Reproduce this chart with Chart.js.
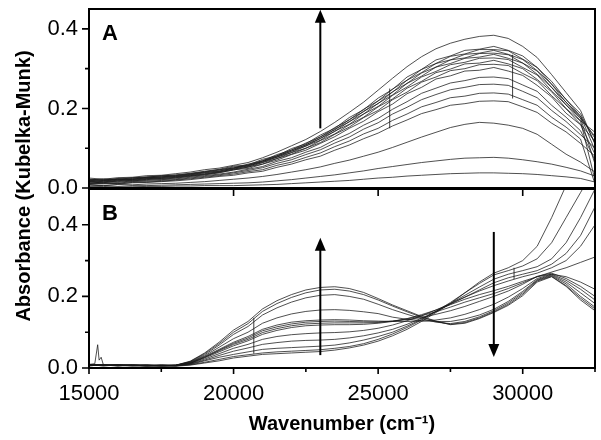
<!DOCTYPE html>
<html>
<head>
<meta charset="utf-8">
<script src="https://cdn.jsdelivr.net/npm/chart.js@4.4.0/dist/chart.umd.min.js"></script>
<style>
html, body { margin: 0; padding: 0; background: #fff; }
#wrap { position: relative; width: 601px; height: 440px; }
#wrap canvas { position: absolute; left: 0; top: 0; }
</style>
</head>
<body>
<div id="wrap">
  <canvas id="plotA" width="601" height="440"></canvas>
  <canvas id="plotB" width="601" height="440"></canvas>
</div>
<script>
// wavenumber grid (cm-1), shared by all spectra
var wavenumbers = [15000,15500,16000,16500,17000,17500,18000,18500,19000,19500,20000,20500,21000,21500,22000,22500,23000,23500,24000,24500,25000,25500,26000,26500,27000,27500,28000,28500,29000,29500,30000,30500,31000,31500,32000,32500];

// panel A spectra
var specA01 = [.025,.022,.026,.027,.031,.032,.036,.040,.046,.050,.057,.064,.076,.090,.106,.122,.142,.165,.190,.216,.246,.276,.305,.330,.350,.364,.374,.381,.384,.376,.356,.328,.285,.240,.195,.110];
var specA02 = [.022,.020,.024,.025,.028,.030,.033,.037,.042,.047,.055,.058,.072,.081,.099,.111,.133,.150,.177,.197,.226,.248,.279,.298,.322,.332,.346,.349,.356,.346,.332,.303,.268,.222,.187,.112];
var specA03 = [.020,.023,.021,.026,.027,.031,.032,.036,.041,.046,.050,.060,.068,.084,.095,.113,.128,.152,.171,.198,.219,.249,.271,.298,.313,.331,.337,.348,.348,.345,.324,.303,.261,.223,.180,.125];
var specA04 = [.021,.019,.023,.022,.027,.028,.031,.035,.040,.045,.053,.056,.069,.079,.096,.108,.129,.146,.172,.192,.219,.241,.271,.290,.313,.322,.336,.339,.346,.336,.323,.295,.261,.215,.181,.095];
var specA05 = [.018,.021,.020,.024,.025,.028,.030,.034,.039,.043,.049,.058,.066,.081,.092,.109,.124,.148,.166,.193,.212,.242,.263,.289,.304,.322,.327,.338,.339,.335,.314,.294,.253,.216,.175,.130];
var specA06 = [.019,.017,.022,.021,.026,.027,.029,.033,.038,.042,.051,.054,.067,.077,.093,.105,.125,.142,.167,.186,.213,.234,.263,.281,.304,.313,.326,.329,.336,.326,.314,.286,.253,.209,.176,.060];
var specA07 = [.016,.019,.018,.022,.023,.026,.028,.032,.036,.041,.047,.056,.064,.078,.089,.106,.120,.143,.160,.186,.205,.233,.254,.279,.293,.310,.316,.326,.327,.323,.303,.284,.244,.209,.169,.140];
var specA08 = [.017,.015,.020,.019,.024,.024,.027,.031,.035,.040,.048,.052,.064,.074,.089,.100,.119,.136,.159,.178,.204,.224,.251,.268,.290,.299,.312,.314,.321,.312,.300,.273,.242,.200,.168,.020];
var specA09 = [.014,.017,.016,.020,.021,.024,.026,.030,.034,.039,.045,.053,.060,.074,.085,.100,.114,.135,.153,.177,.195,.222,.241,.266,.279,.295,.300,.310,.311,.308,.288,.270,.232,.199,.160,.118];
var specA10 = [.015,.013,.018,.017,.022,.022,.025,.029,.033,.038,.046,.049,.060,.070,.084,.095,.112,.129,.150,.168,.192,.211,.237,.253,.274,.282,.294,.296,.303,.294,.283,.258,.229,.188,.159,.085];
var specA11 = [.012,.015,.014,.018,.019,.021,.023,.027,.031,.035,.040,.047,.054,.067,.076,.090,.102,.121,.137,.158,.175,.198,.217,.238,.251,.264,.270,.278,.279,.275,.259,.243,.208,.178,.144,.070];
var specA12 = [.011,.013,.012,.016,.017,.019,.021,.025,.029,.033,.038,.044,.051,.062,.071,.084,.096,.113,.128,.148,.164,.186,.203,.222,.235,.247,.253,.260,.261,.258,.243,.227,.195,.167,.134,.100];
var specA13 = [.010,.012,.011,.014,.015,.017,.020,.023,.027,.031,.035,.041,.046,.057,.065,.077,.088,.104,.118,.136,.150,.170,.186,.204,.215,.227,.231,.238,.239,.236,.222,.208,.178,.153,.123,.010];
var specA14 = [.009,.011,.010,.013,.014,.016,.018,.021,.025,.029,.032,.038,.042,.052,.060,.071,.080,.095,.108,.124,.138,.156,.171,.187,.197,.208,.212,.218,.219,.217,.204,.190,.163,.141,.112,.080];
var specA15 = [.008,.006,.009,.008,.010,.011,.012,.014,.016,.019,.022,.025,.029,.034,.040,.046,.053,.062,.070,.080,.090,.102,.115,.128,.140,.152,.160,.165,.163,.158,.150,.135,.110,.085,.065,.040];
var specA16 = [.005,.007,.004,.006,.006,.007,.008,.009,.010,.011,.012,.013,.015,.018,.021,.025,.029,.033,.038,.043,.049,.054,.059,.064,.068,.072,.075,.076,.077,.075,.071,.066,.060,.052,.043,.030];
var specA17 = [.003,.004,.002,.003,.004,.004,.005,.005,.006,.006,.006,.007,.008,.009,.011,.013,.015,.017,.019,.022,.025,.027,.030,.032,.034,.036,.037,.038,.038,.037,.036,.034,.031,.028,.024,.015];

// panel B spectra
var specB01 = [.008,.010,.006,.007,.005,.006,.005,.008,.014,.020,.028,.033,.038,.040,.042,.044,.046,.050,.056,.064,.075,.090,.108,.130,.155,.180,.210,.240,.265,.280,.300,.340,.420,.510,.590,.650];
var specB02 = [.010,.007,.008,.006,.007,.005,.006,.009,.016,.024,.032,.037,.042,.045,.047,.049,.051,.055,.060,.068,.080,.095,.113,.134,.158,.183,.210,.236,.260,.272,.285,.305,.350,.420,.490,.560];
var specB03 = [.006,.009,.007,.008,.006,.007,.006,.010,.020,.030,.038,.045,.052,.055,.057,.059,.061,.064,.070,.078,.088,.100,.117,.136,.158,.180,.203,.226,.248,.262,.272,.283,.305,.350,.420,.500];
var specB04 = [.009,.006,.009,.007,.008,.006,.007,.011,.022,.035,.047,.056,.066,.071,.075,.077,.078,.080,.084,.090,.098,.108,.122,.139,.158,.178,.198,.218,.238,.252,.262,.272,.290,.320,.370,.450];
var specB05 = [.007,.008,.006,.009,.007,.008,.007,.012,.025,.040,.055,.066,.080,.088,.093,.096,.098,.099,.101,.105,.111,.120,.132,.146,.162,.180,.198,.215,.230,.243,.255,.265,.280,.300,.340,.400];
var specB06 = [.008,.007,.009,.006,.008,.007,.008,.013,.028,.045,.062,.076,.094,.105,.113,.118,.120,.121,.121,.122,.125,.130,.138,.149,.162,.177,.192,.205,.216,.228,.242,.255,.268,.280,.295,.310];
var specB07 = [.006,.009,.007,.008,.009,.006,.007,.014,.030,.048,.066,.080,.099,.110,.118,.123,.125,.126,.126,.126,.127,.131,.137,.146,.157,.170,.184,.196,.208,.222,.238,.255,.262,.255,.240,.220];
var specB08 = [.009,.006,.008,.007,.006,.009,.006,.013,.030,.050,.069,.084,.104,.115,.123,.128,.130,.131,.130,.129,.129,.131,.135,.141,.150,.160,.172,.186,.200,.215,.234,.256,.265,.250,.228,.200];
var specB09 = [.007,.008,.006,.009,.007,.006,.008,.015,.032,.052,.072,.088,.108,.120,.128,.132,.134,.135,.134,.132,.131,.130,.130,.131,.134,.140,.150,.163,.178,.198,.222,.250,.262,.245,.220,.190];
var specB10 = [.008,.007,.009,.008,.006,.007,.007,.016,.034,.058,.082,.100,.125,.140,.151,.158,.162,.163,.161,.157,.152,.142,.136,.132,.130,.130,.137,.148,.164,.186,.214,.247,.260,.240,.210,.180];
var specB11 = [.009,.008,.007,.006,.008,.007,.008,.017,.037,.064,.094,.116,.148,.168,.184,.196,.203,.205,.200,.192,.178,.163,.150,.138,.128,.124,.130,.143,.160,.182,.210,.245,.258,.235,.200,.170];
var specB12 = [.008,.009,.008,.007,.006,.008,.007,.018,.040,.068,.100,.124,.158,.180,.197,.210,.218,.220,.215,.205,.190,.173,.157,.142,.130,.122,.127,.140,.157,.178,.206,.243,.256,.230,.195,.165];
var specB13 = [.010,.008,.009,.008,.007,.006,.008,.019,.042,.072,.106,.130,.165,.188,.205,.218,.225,.227,.222,.211,.194,.176,.160,.144,.131,.121,.125,.138,.155,.175,.202,.240,.255,.228,.190,.160];

// narrow spike near 15300 cm-1 in panel B
var spikeX = [15000,15200,15300,15350,15420,15500];
var spikeY = [.010,.012,.065,.022,.030,.008];

// instrument glitches: wavenumber, low and high absorbance of the vertical streak
var glitchA = [[25400, 0.150, 0.250], [29650, 0.225, 0.335]];
var glitchB = [[20700, 0.040, 0.140], [29700, 0.248, 0.280]];

// ticks
var xMajor = [15000, 20000, 25000, 30000];
var xMinor = [17500, 22500, 27500, 32500];
var yMajor = [0, 0.2, 0.4];
var yMinor = [0.1, 0.3];

// arrows: wavenumber, start and end absorbance
var arrowsA = [[23000, 0.150, 0.448]];
var arrowsB = [[23000, 0.036, 0.364], [29000, 0.380, 0.031]];

var specsA = [specA01,specA02,specA03,specA04,specA05,specA06,specA07,specA08,specA09,specA10,specA11,specA12,specA13,specA14,specA15,specA16,specA17];
var specsB = [specB01,specB02,specB03,specB04,specB05,specB06,specB07,specB08,specB09,specB10,specB11,specB12,specB13];

var FONT = '"Liberation Sans", Arial, sans-serif';
var lineColor = 'rgba(25,25,25,0.85)';

function toPoints(xs, ys) {
	return xs.map(function (x, i) { return {x: x, y: ys[i]}; });
}

function lineSet(points, width) {
	return {data: points, borderColor: lineColor, borderWidth: width, pointRadius: 0, tension: 0, fill: false};
}

function makeSets(list, glitches) {
	var sets = list.map(function (ys) { return lineSet(toPoints(wavenumbers, ys), 0.9); });
	glitches.forEach(function (g) {
		sets.push(lineSet([{x: g[0], y: g[1]}, {x: g[0], y: g[2]}], 1));
	});
	return sets;
}

function drawArrow(ctx, x, y0, y1) {
	var dir = y1 < y0 ? 1 : -1;
	ctx.beginPath();
	ctx.moveTo(x, y0);
	ctx.lineTo(x, y1 + dir * 10);
	ctx.stroke();
	ctx.beginPath();
	ctx.moveTo(x, y1);
	ctx.lineTo(x - 5.5, y1 + dir * 13);
	ctx.lineTo(x + 5.5, y1 + dir * 13);
	ctx.closePath();
	ctx.fill();
}

var framePlugin = {
	id: 'frame',
	afterDraw: function (chart) {
		var o = chart.options.plugins.frame;
		var ctx = chart.ctx, a = chart.chartArea;
		var xs = chart.scales.x, ys = chart.scales.y;
		ctx.save();
		ctx.strokeStyle = '#000';
		ctx.fillStyle = '#000';

		// y ticks, outward
		ctx.lineWidth = 1.6;
		ctx.beginPath();
		yMajor.forEach(function (v) {
			var p = ys.getPixelForValue(v);
			ctx.moveTo(a.left - 7, p); ctx.lineTo(a.left, p);
		});
		yMinor.forEach(function (v) {
			var p = ys.getPixelForValue(v);
			ctx.moveTo(a.left - 4, p); ctx.lineTo(a.left, p);
		});
		if (o.bottomTicks) {
			xMajor.forEach(function (v) {
				var p = xs.getPixelForValue(v);
				ctx.moveTo(p, a.bottom); ctx.lineTo(p, a.bottom + 6);
			});
			xMinor.forEach(function (v) {
				var p = xs.getPixelForValue(v);
				ctx.moveTo(p, a.bottom); ctx.lineTo(p, a.bottom + 4);
			});
		}
		if (o.topTicks) {
			xMajor.forEach(function (v) {
				var p = xs.getPixelForValue(v);
				ctx.moveTo(p, a.top); ctx.lineTo(p, a.top + 7);
			});
		}
		ctx.stroke();

		// frame
		ctx.lineWidth = 2;
		ctx.strokeRect(a.left, a.top, a.right - a.left, a.bottom - a.top);

		// arrows
		ctx.lineWidth = 2;
		o.arrows.forEach(function (ar) {
			drawArrow(ctx, xs.getPixelForValue(ar[0]), ys.getPixelForValue(ar[1]), ys.getPixelForValue(ar[2]));
		});

		// panel letter
		ctx.font = 'bold 22px ' + FONT;
		ctx.textAlign = 'left';
		ctx.textBaseline = 'alphabetic';
		ctx.fillText(o.letter, a.left + 13, a.top + 31);

		if (o.yTitle) {
			ctx.translate(24, 186);
			ctx.rotate(-Math.PI / 2);
			ctx.font = 'bold 20px ' + FONT;
			ctx.textAlign = 'center';
			ctx.textBaseline = 'middle';
			ctx.fillText(o.yTitle, 0, 0);
		}
		ctx.restore();
	}
};

function yScale(max) {
	return {
		min: 0, max: max,
		grid: {display: false, drawTicks: false},
		border: {display: false},
		ticks: {padding: 11, color: '#000',
			font: {family: FONT, size: 22},
			callback: function (v) { return v.toFixed(1); }},
		afterBuildTicks: function (s) { s.ticks = yMajor.map(function (v) { return {value: v}; }); },
		afterFit: function (s) { s.width = 89; s.paddingTop = 0; s.paddingBottom = 0; }
	};
}

var chartA = new Chart(document.getElementById('plotA'), {
	type: 'line',
	data: {datasets: makeSets(specsA, glitchA)},
	options: {
		responsive: false, animation: false, devicePixelRatio: 1,
		layout: {padding: {top: 9, right: 6, bottom: 252, left: 0}},
		plugins: {legend: {display: false}, tooltip: {enabled: false},
			frame: {letter: 'A', arrows: arrowsA, bottomTicks: false, topTicks: false}},
		scales: {
			x: {type: 'linear', min: 15000, max: 32500, display: false},
			y: yScale(0.45)
		}
	},
	plugins: [framePlugin]
});

var setsB = makeSets(specsB, glitchB);
setsB.push(lineSet(toPoints(spikeX, spikeY), 0.9));

var chartB = new Chart(document.getElementById('plotB'), {
	type: 'line',
	data: {datasets: setsB},
	options: {
		responsive: false, animation: false, devicePixelRatio: 1,
		layout: {padding: {top: 189, right: 6, bottom: 0, left: 0}},
		plugins: {legend: {display: false}, tooltip: {enabled: false},
			frame: {letter: 'B', arrows: arrowsB, bottomTicks: true, topTicks: true,
				yTitle: 'Absorbance (Kubelka-Munk)'}},
		scales: {
			x: {type: 'linear', min: 15000, max: 32500,
				grid: {display: false, drawTicks: false},
				border: {display: false},
				ticks: {padding: 13, color: '#000', maxRotation: 0, autoSkip: false,
					font: {family: FONT, size: 22},
					callback: function (v) { return String(v); }},
				title: {display: true, text: 'Wavenumber (cm\u207B\u00B9)', color: '#000',
					font: {family: FONT, size: 20, weight: 'bold'}, padding: {top: 0, bottom: 4}},
				afterBuildTicks: function (s) { s.ticks = xMajor.map(function (v) { return {value: v}; }); },
				afterFit: function (s) { s.height = 72; s.paddingLeft = 0; s.paddingRight = 0; }
			},
			y: yScale(0.5)
		}
	},
	plugins: [framePlugin]
});
</script>
</body>
</html>
